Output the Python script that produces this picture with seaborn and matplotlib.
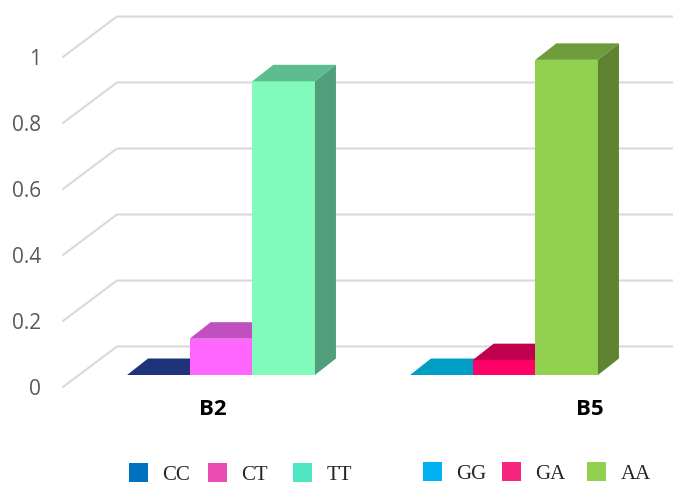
import matplotlib
matplotlib.use("Agg")
import matplotlib.pyplot as plt
import matplotlib.transforms as mtrans
from matplotlib.patches import Patch, Polygon
import pandas as pd
import seaborn as sns

# values
groups = ["B2", "B5"]
genotypes = [["CC", "CT", "TT"], ["GG", "GA", "AA"]]
freqs = [[0.0, 0.11, 0.89], [0.0, 0.045, 0.955]]
y_ticks = [0, 0.2, 0.4, 0.6, 0.8, 1]
y_labels = ["0", "0.2", "0.4", "0.6", "0.8", "1"]

# colours: front, top, side, legend
front = [["#1F337B", "#FF66FF", "#80FBBB"], ["#009DC4", "#FF0066", "#92D050"]]
top = [["#1F337B", "#C050C0", "#5EBD90"], ["#009DC4", "#C0004D", "#6E9C3C"]]
side = [["#1F337B", "#C050C0", "#509E7C"], ["#009DC4", "#C0004D", "#5E8432"]]
legend_cols = [["#0070C0", "#EA4CB4", "#4EE6C0"], ["#00B0F0", "#F5247F", "#92D050"]]

rows = []
for g, name in enumerate(groups):
    for k in range(3):
        rows.append({"group": name, "pos": k, "freq": freqs[g][k]})
df = pd.DataFrame(rows)

sns.set_theme(style="white")
fig = plt.figure(figsize=(6.73, 4.84), dpi=100)
W, H = 673, 484
ax = fig.add_axes([0, (H - 375) / H, 1, 375 / H])

sns.barplot(data=df, x="group", y="freq", hue="pos", palette=["#999999"] * 3,
            width=0.664, gap=0, legend=False, ax=ax)

ax.set_xlim(-221 / 283, (W - 221) / 283)
ax.set_ylim(0, 375 / 330)
ax.set_xlabel("")
ax.set_ylabel("")
sns.despine(ax=ax, left=True, bottom=True)

# fake 3d: bar depth and wall depth in data units
dx = 21 / 283
dy = 16.5 / 330
for k, cont in enumerate(ax.containers):
    for g, bar in enumerate(cont):
        x0 = bar.get_x()
        x1 = x0 + bar.get_width()
        h = bar.get_height()
        bar.set_facecolor(front[g][k])
        bar.set_edgecolor("none")
        bar.set_zorder(3 + k)
        ax.add_patch(Polygon([(x0, h), (x1, h), (x1 + dx, h + dy), (x0 + dx, h + dy)],
                             fc=top[g][k], ec="none", zorder=3 + k))
        if h > 0:
            ax.add_patch(Polygon([(x1, 0), (x1 + dx, dy), (x1 + dx, h + dy), (x1, h)],
                                 fc=side[g][k], ec="none", zorder=3 + k))

# grid on the floor edge + back wall
wall_x0, wall_x1 = -158 / 283, -104 / 283
wall_y0, wall_y1 = -12 / 330, 28.5 / 330
for v in y_ticks:
    ax.plot([wall_x0, wall_x1, (W - 221) / 283], [v + wall_y0, v + wall_y1, v + wall_y1],
            color="#D9D9D9", lw=1.5, clip_on=False, zorder=1, solid_joinstyle="miter")

ax.set_yticks(y_ticks)
ax.set_yticklabels(y_labels, fontfamily="Open Sans", fontsize=15, color="#595959")
ax.tick_params(axis="y", length=0, pad=-29.5)
shift = mtrans.ScaledTranslation(0, -12 / 100, fig.dpi_scale_trans)
for lab in ax.get_yticklabels():
    lab.set_transform(lab.get_transform() + shift)

ax.set_xticks([0, 1])
ax.set_xticklabels(groups, fontfamily="Open Sans", fontweight="bold", fontsize=16, color="black")
ax.tick_params(axis="x", length=0, pad=17)
for lab, off in zip(ax.get_xticklabels(), [-8, 86]):
    lab.set_transform(lab.get_transform() + mtrans.ScaledTranslation(off / 100, 0, fig.dpi_scale_trans))

# legend entries are unevenly spaced in the original, so one legend per entry
leg_x = [[129, 208, 293], [423, 502, 587]]
leg_y = [474, 473]
for g in range(2):
    for k in range(3):
        handle = Patch(fc=legend_cols[g][k], ec="none", label=genotypes[g][k])
        fig.legend(handles=[handle], loc="center left",
                   bbox_to_anchor=(leg_x[g][k] / W, (H - leg_y[g]) / H),
                   bbox_transform=fig.transFigure, frameon=False, borderpad=0, borderaxespad=0,
                   handlelength=0.9, handleheight=1.05, handletextpad=0.7,
                   prop={"family": "Liberation Serif", "size": 15})

fig.savefig("out.png", dpi=100)
